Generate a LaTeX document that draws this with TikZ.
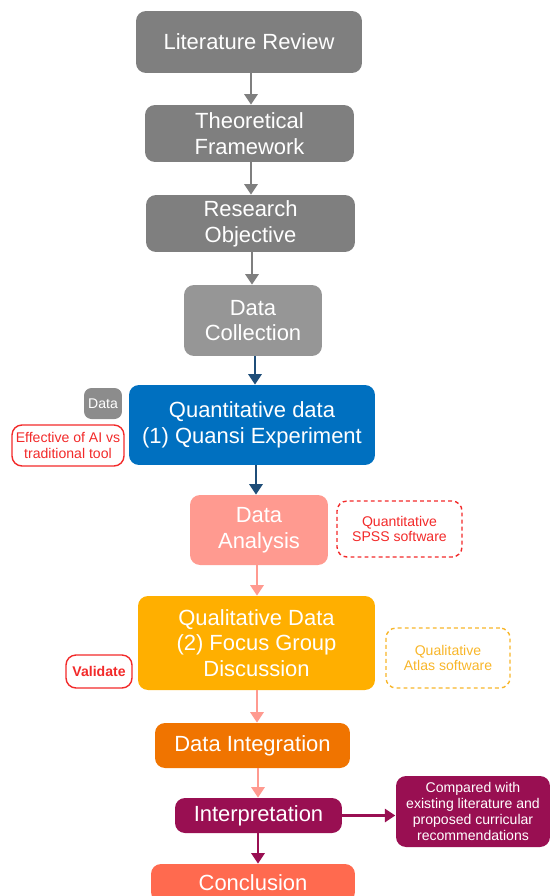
\documentclass[tikz,border=0pt]{standalone}
\usepackage{fontspec}
\setmainfont{Liberation Sans}
\usetikzlibrary{arrows.meta}

\definecolor{boxgray}{HTML}{7F7F7F}
\definecolor{lightgray}{HTML}{969696}
\definecolor{smallgray}{HTML}{8C8C8C}
\definecolor{quantblue}{HTML}{0070C0}
\definecolor{darkblue}{HTML}{1F4E79}
\definecolor{salmon}{HTML}{FF9A90}
\definecolor{qualorange}{HTML}{FFAF00}
\definecolor{integorange}{HTML}{F07400}
\definecolor{maroon}{HTML}{990F52}
\definecolor{coral}{HTML}{FF6A4F}
\definecolor{notered}{HTML}{F22A2A}
\definecolor{noteorange}{HTML}{F8B62A}

\tikzset{
  mainbox/.style={rounded corners=0.2cm, text=white, align=center,
    inner sep=0pt, font=\fontsize{12.5}{14.7}\selectfont},
  notebox/.style={rounded corners=0.2cm, align=center, inner sep=0pt,
    line width=0.8pt, font=\fontsize{8}{9}\selectfont},
  dotbox/.style={notebox, dash pattern=on 2.2pt off 1.8pt},
  flow/.style={line width=1.5pt, -{Triangle[length=6pt,width=7.5pt]}},
}

\begin{document}
\begin{tikzpicture}[x=0.02cm,y=-0.02cm]
\useasboundingbox (0,0) rectangle (550,896);

% main steps:
\node[mainbox, fill=boxgray, minimum width=4.52cm, minimum height=1.24cm] (litreview) at (249,42) {Literature Review};
\node[mainbox, fill=boxgray, minimum width=4.18cm, minimum height=1.14cm] (framework) at (249.5,133.5) {Theoretical\\Framework};
\node[mainbox, fill=boxgray, minimum width=4.18cm, minimum height=1.14cm] (objective) at (250.5,223.5) {Research\\Objective};
\node[mainbox, fill=lightgray, minimum width=2.76cm, minimum height=1.42cm] (collection) at (253,320.5) {Data\\Collection};
\node[mainbox, fill=quantblue, minimum width=4.92cm, minimum height=1.6cm] (quantdata) at (252,425) {Quantitative data\\(1) Quansi Experiment};
\node[mainbox, fill=salmon, minimum width=2.76cm, minimum height=1.4cm] (analysis) at (259,530) {Data\\Analysis};
\node[mainbox, fill=qualorange, minimum width=4.74cm, minimum height=1.88cm] (qualdata) at (256.5,643) {Qualitative Data\\(2) Focus Group\\Discussion};
\node[mainbox, fill=integorange, minimum width=3.9cm, minimum height=0.9cm] (integration) at (252.5,745.5) {Data Integration};
\node[mainbox, fill=maroon, minimum width=3.34cm, minimum height=0.7cm] (interpret) at (258.5,815.5) {Interpretation};
\node[mainbox, fill=coral, minimum width=4.08cm, minimum height=0.76cm, text depth=0pt] (conclusion) at (253,883) {Conclusion};

% notes at the side:
\node[notebox, fill=smallgray, text=white, rounded corners=0.15cm, minimum width=0.76cm, minimum height=0.62cm] (datatag) at (103,403.5) {Data};
\node[notebox, draw=notered, text=notered, minimum width=2.24cm, minimum height=0.82cm] (effective) at (68,445.5) {Effective of AI vs\\traditional tool};
\node[dotbox, draw=notered, text=notered, minimum width=2.5cm, minimum height=1.12cm] (spss) at (399.5,529) {Quantitative\\SPSS software};
\node[dotbox, draw=noteorange, text=noteorange, minimum width=2.48cm, minimum height=1.2cm] (atlas) at (448,658) {Qualitative\\Atlas software};
\node[notebox, draw=notered, text=notered, minimum width=1.32cm, minimum height=0.66cm, font=\fontsize{8}{9}\selectfont\bfseries] (validate) at (99,671.5) {Validate};
\node[notebox, fill=maroon, text=white, minimum width=3.08cm, minimum height=1.42cm] (compared) at (473,811.5) {Compared with\\existing literature and\\proposed curricular\\recommendations};

% connectors:
\draw[flow, boxgray] (litreview.south -| 251,0) -- (framework.north -| 251,0);
\draw[flow, boxgray] (framework.south -| 251,0) -- (objective.north -| 251,0);
\draw[flow, boxgray] (objective.south -| 252,0) -- (collection.north -| 252,0);
\draw[flow, darkblue] (collection.south -| 255,0) -- (quantdata.north -| 255,0);
\draw[flow, darkblue] (quantdata.south -| 256,0) -- (analysis.north -| 256,0);
\draw[flow, salmon] (analysis.south -| 257,0) -- (qualdata.north -| 257,0);
\draw[flow, salmon] (qualdata.south -| 257,0) -- (integration.north -| 257,0);
\draw[flow, salmon] (integration.south -| 258,0) -- (interpret.north -| 258,0);
\draw[flow, maroon] (interpret.south -| 258,0) -- (conclusion.north -| 258,0);
\draw[flow, maroon] (interpret.east) -- (compared.west |- interpret.east);

\end{tikzpicture}
\end{document}
